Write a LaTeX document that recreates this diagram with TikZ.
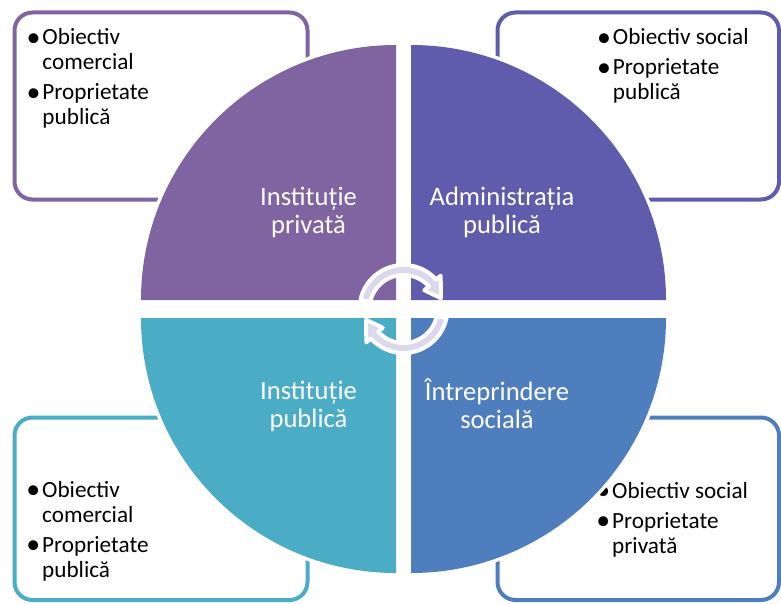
\documentclass[tikz,border=0pt]{standalone}
\usepackage{fontspec}
\usepackage{graphicx}
\setmainfont{Carlito}
\definecolor{cTL}{HTML}{8064A2}
\definecolor{cTR}{HTML}{5F5BAD}
\definecolor{cBL}{HTML}{4BACC6}
\definecolor{cBR}{HTML}{4F7EBE}
\definecolor{arrowfill}{HTML}{DAD8EA}
\newcommand\bitem[1]{\makebox[16.3pt][l]{\hspace*{0.5pt}\raisebox{-1.2pt}{\scalebox{1.2}{•}}}#1}
\newcommand\bcont[1]{\hspace*{16.3pt}#1}
\begin{document}
\begin{tikzpicture}[x=1pt,y=-1pt,
  infobox/.style={draw=#1, line width=4pt, rounded corners=18pt, fill=white},
  quad/.style={preaction={draw=white, line width=7pt}, fill=#1},
  lbl/.style={text=white, font=\fontsize{26.6}{28}\selectfont, inner sep=0pt, anchor=base},
  blt/.style={text=black, font=\fontsize{23.2}{25}\selectfont, inner sep=0pt, anchor=base west},
  cyc/.style={fill=arrowfill, draw=white, line width=4pt, line join=round},
]
\useasboundingbox (0,0) rectangle (781,604);

% information boxes
\draw[infobox=cTL] (14.5,12.5) rectangle (307.5,199.5);
\draw[infobox=cTR] (497.5,12.5) rectangle (779,199.5);
\draw[infobox=cBL] (14.5,417.5) rectangle (307.5,600);
\draw[infobox=cBR] (497.5,417.5) rectangle (779,600);

% bullet texts
\node[blt] (tltext) at (26,45) {\begin{tabular}[t]{@{}l@{}}\bitem{Obiectiv}\\\bcont{comercial}\\[5pt]\bitem{Proprietate}\\\bcont{publică}\end{tabular}};
\node[blt] (trtext) at (596.4,45) {\begin{tabular}[t]{@{}l@{}}\bitem{Obiectiv social}\\[5pt]\bitem{Proprietate}\\\bcont{publică}\end{tabular}};
\node[blt] (bltext) at (25.7,497) {\begin{tabular}[t]{@{}l@{}}\bitem{Obiectiv}\\\bcont{comercial}\\[5pt]\bitem{Proprietate}\\\bcont{publică}\end{tabular}};
\node[blt] (brtext) at (595.7,498) {\begin{tabular}[t]{@{}l@{}}\bitem{Obiectiv social}\\[5pt]\bitem{Proprietate}\\\bcont{privată}\end{tabular}};

% quadrants
\path[quad=cTL] (396,300) -- (141,300) arc[start angle=180, end angle=90, radius=255pt] -- cycle;
\path[quad=cTR] (411,300) -- (411,45) arc[start angle=90, end angle=0, radius=255pt] -- cycle;
\path[quad=cBL] (396,318) -- (396,573) arc[start angle=270, end angle=180, radius=255pt] -- cycle;
\path[quad=cBR] (411,318) -- (666,318) arc[start angle=0, end angle=-90, radius=255pt] -- cycle;

% quadrant labels
\node[lbl] (ltl) at (308.5,205) {\begin{tabular}[t]{@{}c@{}}Instituție\\privată\end{tabular}};
\node[lbl] (ltr) at (502,205) {\begin{tabular}[t]{@{}c@{}}Administrația\\publică\end{tabular}};
\node[lbl] (lbl) at (308.5,399) {\begin{tabular}[t]{@{}c@{}}Instituție\\publică\end{tabular}};
\node[lbl] (lbr) at (497,400) {\begin{tabular}[t]{@{}c@{}}Întreprindere\\socială\end{tabular}};

% central cycle arrows
\begin{scope}[shift={(403.5,309)}]
\path[cyc] (168:44pt) arc[start angle=168, end angle=42, radius=44pt] -- (42:50pt) -- (16:39pt) -- (42:28pt) -- (42:34pt) arc[start angle=42, end angle=168, radius=34pt] -- cycle;
\path[cyc] (348:44pt) arc[start angle=348, end angle=222, radius=44pt] -- (222:50pt) -- (196:39pt) -- (222:28pt) -- (222:34pt) arc[start angle=222, end angle=348, radius=34pt] -- cycle;
\end{scope}
\end{tikzpicture}
\end{document}
